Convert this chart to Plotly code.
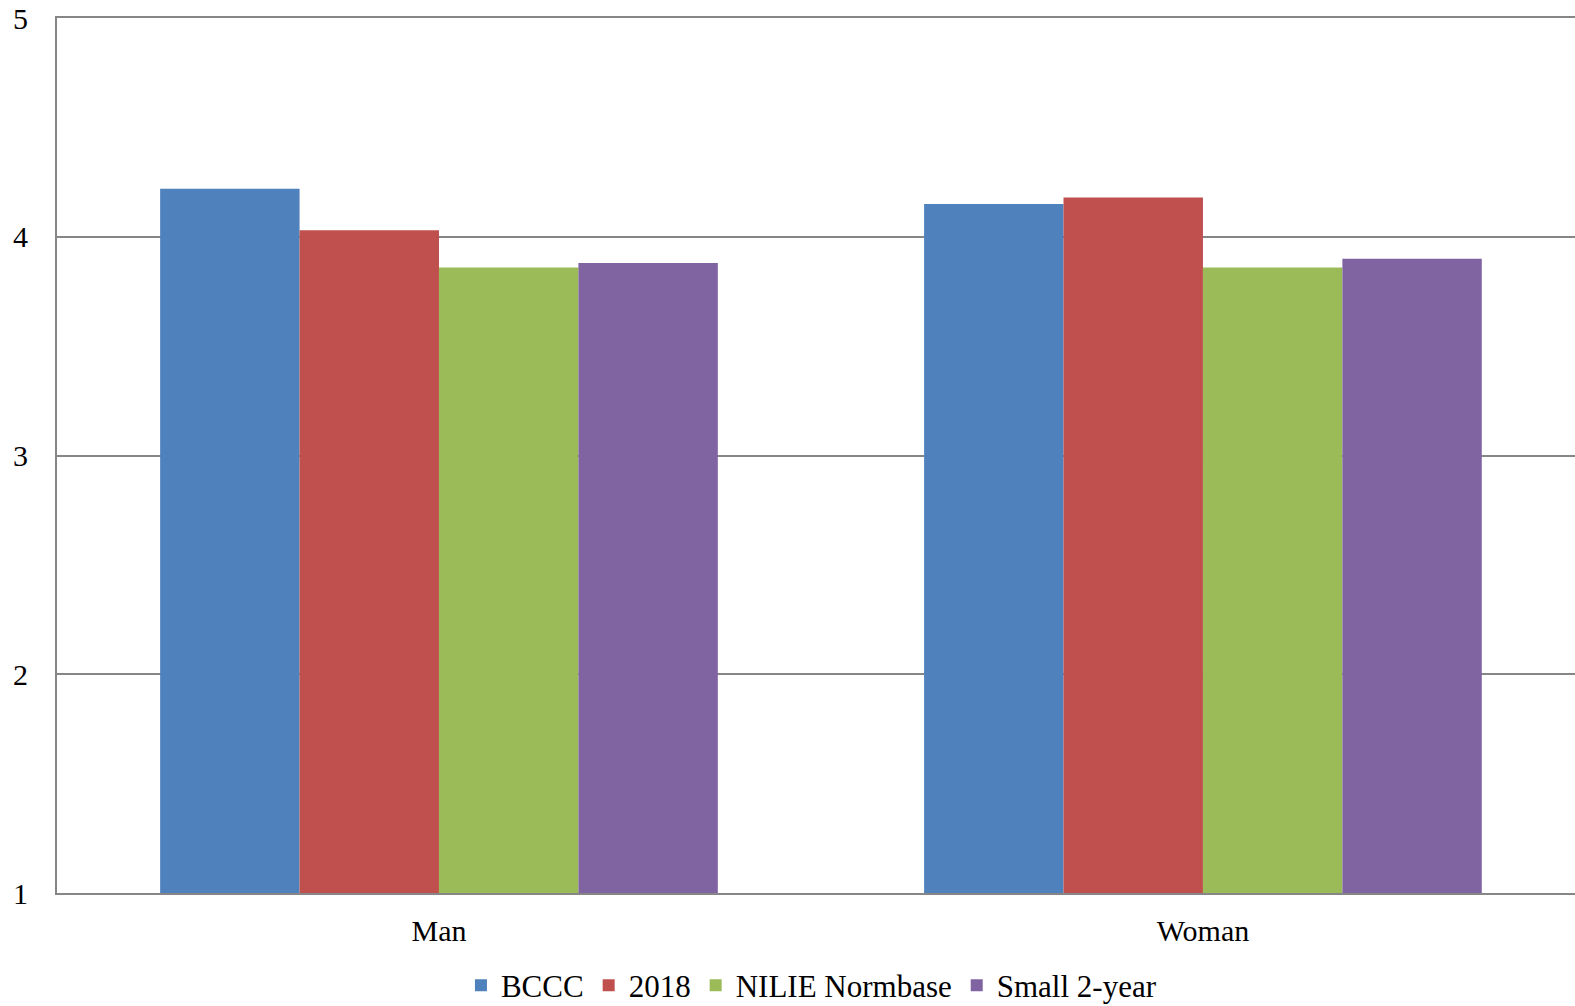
import plotly.graph_objects as go

categories = ["Man", "Woman"]
series_names = ["BCCC", "2018", "NILIE Normbase", "Small 2-year"]
bccc = [4.22, 4.15]
y2018 = [4.03, 4.18]
nilie = [3.86, 3.86]
small = [3.88, 3.90]
colors = ["#4F81BD", "#C0504D", "#9BBB59", "#8064A2"]

values = [bccc, y2018, nilie, small]

fig = go.Figure()
for name, vals, col in zip(series_names, values, colors):
    fig.add_trace(go.Bar(x=categories, y=vals, name=name, marker_color=col,
                         marker_line_width=0))

font = "Liberation Serif, Times New Roman, serif"
fig.update_layout(
    width=1575, height=1006,
    margin=dict(l=57, r=0, t=18, b=113, autoexpand=False),
    paper_bgcolor="white", plot_bgcolor="white",
    barmode="group", bargap=0.27, bargroupgap=0,
    font=dict(family=font, size=30, color="black"),
    showlegend=True,
    legend=dict(orientation="h", x=0.497, xanchor="center", y=-0.075, yanchor="top",
                font=dict(size=31, family=font), itemwidth=30, traceorder="normal"),
    xaxis=dict(range=[-0.5, 1.487], showline=True, mirror=True, linecolor="#868686",
               linewidth=2, ticks="", tickfont=dict(size=30), ticklabelstandoff=10,
               automargin=False),
    yaxis=dict(range=[1, 5], tickvals=[1, 2, 3, 4, 5], showline=True, linecolor="#868686",
               linewidth=2, showgrid=True, gridcolor="#868686", gridwidth=2,
               ticks="", tickfont=dict(size=30), ticklabelstandoff=21, zeroline=False,
               automargin=False, ticklabeloverflow="allow"),
)
fig.write_html("out.html", config={"displayModeBar": False},
               post_script="document.body.style.margin='0';document.body.style.overflow='hidden';")
